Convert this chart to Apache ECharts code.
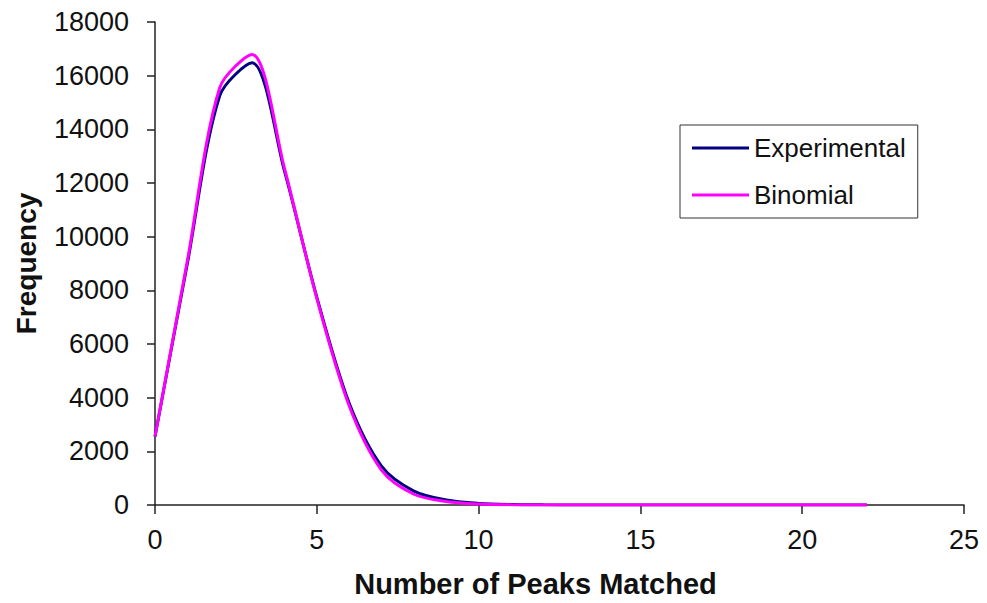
<!DOCTYPE html>
<html>
<head>
<meta charset="utf-8">
<script src="https://cdn.jsdelivr.net/npm/echarts@6/dist/echarts.min.js"></script>
<style>
html,body{margin:0;padding:0;background:#fff;}
#chart{width:987px;height:603px;}
</style>
</head>
<body>
<div id="chart"></div>
<script>
const peaks = [0,1,2,3,4,5,6,7,8,9,10,11,12,13,14,15,16,17,18,19,20,21,22];
const experimental = [2550,9000,15250,16480,12450,7750,3800,1450,520,185,60,18,6,2,1,0,0,0,0,0,0,0,0];
const binomial = [2550,9100,15550,16790,12550,7700,3700,1300,400,130,35,8,2,0,0,0,0,0,0,0,0,0,0];
const xTicks = [0,5,10,15,20,25];
const yTicks = [0,2000,4000,6000,8000,10000,12000,14000,16000,18000];

const pairs = (ys) => peaks.map((x,i) => [x, ys[i]]);
const font = 'Arial, "Liberation Sans", sans-serif';

const chart = echarts.init(document.getElementById('chart'), null, {renderer:'svg'});
chart.setOption({
  backgroundColor:'#ffffff',
  animation:false,
  grid:{left:155, right:23, top:22, bottom:94, containLabel:false},
  legend:{
    orient:'vertical', left:680, top:125,
    padding:[10,12,10,12],
    borderColor:'#333', borderWidth:1,
    icon:'rect',
    itemWidth:57, itemHeight:3, itemGap:21,
    textStyle:{fontFamily:font, fontSize:26, color:'#111', lineHeight:26},
    data:['Experimental','Binomial']
  },
  xAxis:{
    type:'value', min:xTicks[0], max:xTicks[xTicks.length-1], interval:5,
    name:'Number of Peaks Matched', nameLocation:'middle', nameGap:64,
    nameTextStyle:{fontFamily:font, fontSize:29, fontWeight:'bold', color:'#111', padding:[0,48,0,0]},
    axisLine:{show:true, lineStyle:{color:'#222', width:1.5}},
    axisTick:{show:true, inside:false, length:9, lineStyle:{color:'#222', width:1.5}},
    axisLabel:{fontFamily:font, fontSize:27, color:'#111', margin:21, formatter:(v)=>String(v)},
    splitLine:{show:false}
  },
  yAxis:{
    type:'value', min:yTicks[0], max:yTicks[yTicks.length-1], interval:2000,
    name:'Frequency', nameLocation:'middle', nameGap:115, nameRotate:90,
    nameTextStyle:{fontFamily:font, fontSize:28, fontWeight:'bold', color:'#111'},
    axisLine:{show:true, lineStyle:{color:'#222', width:1.5}},
    axisTick:{show:true, inside:false, length:8, lineStyle:{color:'#222', width:1.5}},
    axisLabel:{fontFamily:font, fontSize:27, color:'#111', margin:26, formatter:(v)=>String(v)},
    splitLine:{show:false}
  },
  series:[
    {name:'Experimental', type:'line', data:pairs(experimental), smooth:0.3, symbol:'none',
     lineStyle:{color:'#000080', width:3}, itemStyle:{color:'#000080'}},
    {name:'Binomial', type:'line', data:pairs(binomial), smooth:0.3, symbol:'none',
     lineStyle:{color:'#FF00FF', width:3}, itemStyle:{color:'#FF00FF'}}
  ]
});
</script>
</body>
</html>
